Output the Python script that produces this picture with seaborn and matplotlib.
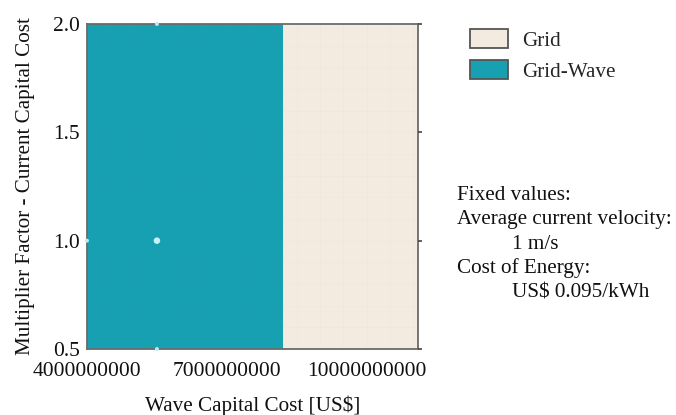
import numpy as np
import matplotlib
matplotlib.use("Agg")
import matplotlib.pyplot as plt
from matplotlib.patches import Patch
from matplotlib.colors import ListedColormap
from matplotlib.ticker import MultipleLocator, FixedLocator, FuncFormatter
import seaborn as sns

# Optimal system type over the sensitivity space
wave_cost_edges = [4.0e9, 8.2e9, 11.1e9]      # US$, region boundaries along x
factor_edges = [0.5, 2.0]                      # current capital cost multiplier
region_systems = ["Grid-Wave", "Grid"]         # optimal system in each x-region
system_colors = {"Grid": "#f3eae0", "Grid-Wave": "#16a0b1"}
legend_order = ["Grid", "Grid-Wave"]

# Base case marker
base_wave_cost = [5.5e9]
base_factor = [1.0]

x_major_ticks = [4.0e9, 7.0e9, 10.0e9]

fixed_values_lines = [
    ("Fixed values:", 0),
    ("Average current velocity:", 0),
    ("1 m/s", 1),
    ("Cost of Energy:", 0),
    ("US$ 0.095/kWh", 1),
]

sns.set_theme(style="white")
plt.rcParams["font.family"] = ["Liberation Serif", "DejaVu Serif"]
plt.rcParams["mathtext.fontset"] = "stix"

FS = 15.2

fig = plt.figure(figsize=(6.76, 4.15), dpi=100)
ax = fig.add_axes([87 / 676, 66 / 415, 331 / 676, 325 / 415])

# Region cells
codes = {s: i for i, s in enumerate(region_systems)}
grid = np.array([[codes[s] for s in region_systems]])
cmap = ListedColormap([system_colors[s] for s in region_systems])
ax.pcolormesh(wave_cost_edges, factor_edges, grid, cmap=cmap,
              vmin=-0.5, vmax=len(region_systems) - 0.5, shading="flat")

# Faint sensitivity grid lines
ax.set_axisbelow(False)
ax.grid(True, which="both", color="#9a9a9a", alpha=0.04, linewidth=0.6)

# Base case position
sns.scatterplot(x=base_wave_cost, y=base_factor, ax=ax, s=22, color="#c8f2f6",
                edgecolor="none", zorder=5, legend=False)
sns.scatterplot(x=base_wave_cost * 2, y=factor_edges, ax=ax, s=8, color="#b8ecf0",
                edgecolor="none", zorder=5, legend=False, clip_on=False)
sns.scatterplot(x=[wave_cost_edges[0]], y=base_factor, ax=ax, s=8, color="#b8ecf0",
                edgecolor="none", zorder=5, legend=False, clip_on=False)

ax.set_xlim(wave_cost_edges[0], wave_cost_edges[-1])
ax.set_ylim(factor_edges[0], factor_edges[-1])

ax.xaxis.set_major_locator(FixedLocator(x_major_ticks))
ax.xaxis.set_minor_locator(MultipleLocator(0.5e9))
ax.xaxis.set_major_formatter(FuncFormatter(lambda v, p: f"{v:.0f}"))
ax.yaxis.set_major_locator(MultipleLocator(0.5))
ax.yaxis.set_minor_locator(MultipleLocator(0.1))
ax.yaxis.set_major_formatter(FuncFormatter(lambda v, p: f"{v:.1f}"))

ax.tick_params(axis="both", which="major", direction="out", length=3, width=1.2,
               color="#444444", labelsize=15.5, labelcolor="#111111", pad=2)
ax.tick_params(axis="both", which="minor", direction="out", length=2.5, width=1.0,
               color="#555555")
ax.tick_params(axis="y", which="major", right=True)
ax.tick_params(axis="x", which="major", pad=6)

for side in ["left", "bottom", "right", "top"]:
    ax.spines[side].set_visible(True)
    ax.spines[side].set_color("#6a6a6a")
    ax.spines[side].set_linewidth(1.3)

ax.set_xlabel("Wave Capital Cost [US$]", fontsize=FS, color="#111111", labelpad=11)
ax.set_ylabel("Multiplier Factor - Current Capital Cost", fontsize=FS,
              color="#111111")
ax.yaxis.set_label_coords(-(87 - 35) / 331, 0.5)

handles = [Patch(facecolor=system_colors[s], edgecolor="#555555", linewidth=1.3,
                 label=s) for s in legend_order]
fig.legend(handles=handles, loc="upper left", bbox_to_anchor=(470 / 676, 1 - 29 / 415),
           frameon=False, fontsize=FS, handlelength=1.8, handleheight=1.0,
           handletextpad=0.65, labelspacing=0.45, borderaxespad=0, borderpad=0)

y0 = 195
for i, (line, indent) in enumerate(fixed_values_lines):
    fig.text((457 + 55 * indent) / 676, 1 - (y0 + 24.5 * i) / 415, line,
             fontsize=FS, color="#111111", va="center", ha="left")

fig.savefig("out.png", dpi=100)
